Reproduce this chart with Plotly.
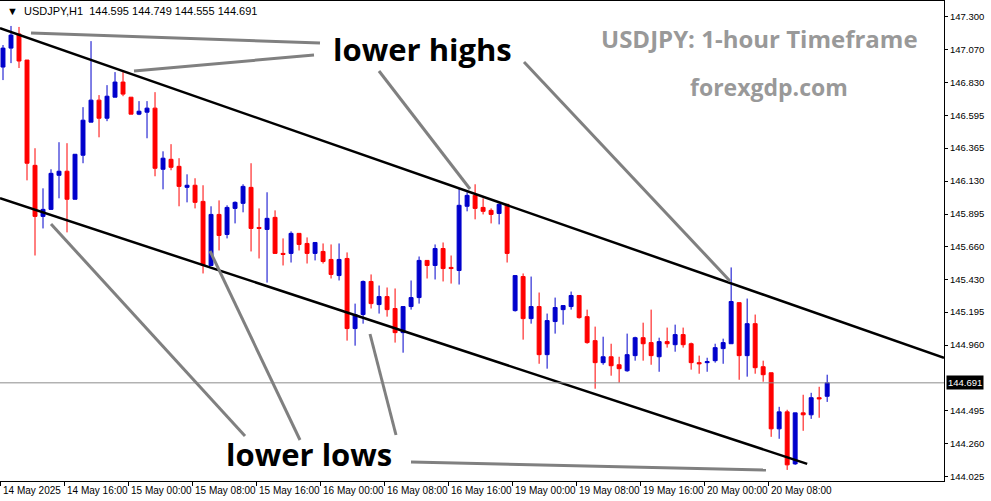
import plotly.graph_objects as go

# hourly candles, 14 May 08:00 -> 16 May 23:00, then 19 May 00:00 -> 20 May 15:00
opens = [146.943, 147.078, 147.179, 146.993, 146.242, 145.878, 145.928, 146.171, 146.200, 146.000,
         146.314, 146.550, 146.707, 146.578, 146.728, 146.836, 146.728, 146.607, 146.621, 146.650,
         146.214, 146.285, 146.235, 146.085, 146.100, 145.985, 145.528, 145.892, 145.749, 145.935,
         145.971, 146.085, 145.799, 145.785, 145.871, 145.614, 145.614, 145.757, 145.685, 145.614,
         145.628, 145.571, 145.456, 145.578, 145.078, 145.178, 145.414, 145.249, 145.306, 145.221,
         145.049, 145.235, 145.299, 145.564, 145.528, 145.649, 145.514, 145.492, 145.950, 146.028,
         145.942, 145.921, 145.899, 145.964, 145.206, 145.449, 145.149, 145.235, 144.892, 145.128,
         145.213, 145.235, 145.314, 145.163, 144.992, 144.835, 144.877, 144.820, 144.777, 144.885,
         145.013, 144.978, 144.877, 144.985, 144.963, 145.035, 144.970, 144.835, 144.835, 144.849,
         144.935, 144.970, 145.263, 144.885, 145.113, 144.806, 144.763, 144.363, 144.484, 144.113,
         144.477, 144.463, 144.585, 144.595]
highs = [147.100, 147.236, 147.229, 146.993, 146.364, 146.078, 146.214, 146.407, 146.400, 146.321,
         146.657, 147.128, 146.743, 146.814, 146.907, 146.907, 146.728, 146.700, 146.700, 146.764,
         146.342, 146.393, 146.293, 146.178, 146.150, 146.100, 145.950, 145.992, 145.957, 145.985,
         146.107, 146.257, 145.935, 146.050, 145.921, 145.721, 145.771, 145.757, 145.728, 145.692,
         145.685, 145.678, 145.685, 145.621, 145.256, 145.421, 145.464, 145.385, 145.371, 145.364,
         145.235, 145.421, 145.592, 145.564, 145.678, 145.692, 145.599, 146.078, 146.050, 146.107,
         146.007, 145.935, 145.971, 145.964, 145.456, 145.471, 145.449, 145.335, 145.185, 145.299,
         145.242, 145.342, 145.314, 145.213, 145.092, 145.020, 144.970, 144.877, 145.042, 145.020,
         145.120, 145.213, 145.013, 145.085, 145.106, 145.085, 144.978, 144.885, 144.870, 144.970,
         145.006, 145.514, 145.263, 145.292, 145.178, 144.849, 144.763, 144.520, 144.499, 144.477,
         144.606, 144.620, 144.663, 144.749]
lows = [146.850, 146.971, 146.936, 146.135, 145.599, 145.792, 145.928, 146.007, 145.764, 146.000,
        146.257, 146.550, 146.442, 146.557, 146.728, 146.735, 146.607, 146.600, 146.435, 146.164,
        146.071, 146.207, 145.950, 145.978, 145.935, 145.471, 145.528, 145.635, 145.721, 145.828,
        145.907, 145.628, 145.578, 145.406, 145.614, 145.528, 145.549, 145.635, 145.542, 145.564,
        145.542, 145.435, 145.421, 144.992, 144.956, 145.113, 145.221, 145.185, 145.163, 144.978,
        144.906, 145.213, 145.256, 145.435, 145.428, 145.414, 145.399, 145.392, 145.914, 145.857,
        145.892, 145.828, 145.821, 145.549, 145.199, 144.999, 145.113, 144.827, 144.792, 145.042,
        145.106, 145.213, 145.149, 144.970, 144.649, 144.820, 144.742, 144.692, 144.770, 144.849,
        144.849, 144.820, 144.770, 144.942, 144.913, 144.942, 144.785, 144.756, 144.770, 144.835,
        144.827, 144.970, 144.713, 144.735, 144.756, 144.699, 144.306, 144.292, 144.070, 144.106,
        144.349, 144.434, 144.442, 144.555]
closes = [147.078, 147.171, 146.986, 146.257, 145.878, 145.928, 146.185, 146.200, 146.000, 146.321,
          146.564, 146.707, 146.578, 146.735, 146.836, 146.750, 146.607, 146.628, 146.650, 146.221,
          146.293, 146.228, 146.092, 146.100, 145.978, 145.528, 145.892, 145.742, 145.942, 145.978,
          146.092, 145.792, 145.792, 145.864, 145.614, 145.607, 145.757, 145.678, 145.614, 145.692,
          145.556, 145.464, 145.571, 145.078, 145.178, 145.414, 145.256, 145.306, 145.213, 145.049,
          145.235, 145.299, 145.564, 145.528, 145.649, 145.506, 145.506, 145.957, 146.028, 145.935,
          145.914, 145.892, 145.964, 145.614, 145.456, 145.149, 145.235, 144.892, 145.135, 145.228,
          145.242, 145.314, 145.156, 144.978, 144.835, 144.877, 144.813, 144.792, 144.892, 145.013,
          144.970, 144.885, 144.985, 144.970, 145.035, 144.963, 144.835, 144.827, 144.842, 144.942,
          144.978, 145.271, 144.885, 145.113, 144.799, 144.749, 144.363, 144.484, 144.106, 144.477,
          144.463, 144.585, 144.577, 144.691]

date_labels = ["14 May 2025", "14 May 16:00", "15 May 00:00", "15 May 08:00", "15 May 16:00",
               "16 May 00:00", "16 May 08:00", "16 May 16:00", "19 May 00:00", "19 May 08:00",
               "19 May 16:00", "20 May 00:00", "20 May 08:00"]
price_ticks = [147.300, 147.070, 146.830, 146.595, 146.365, 146.130, 145.895, 145.660,
               145.430, 145.195, 144.960, 144.495, 144.260, 144.025]
last_price = 144.691

# channel lines (start/end in bar index, price)
upper_channel = [(-0.375, 147.221), (117.6, 144.870)]
lower_channel = [(-0.375, 146.007), (100.5, 144.113)]

W, H = 944, 480  # plot area in px


def px(x):
    return x / W


def py(y):
    return 1 - y / H


idx = list(range(len(opens)))
fig = go.Figure(go.Candlestick(
    x=idx, open=opens, high=highs, low=lows, close=closes,
    increasing=dict(line=dict(color="#0000cc", width=1), fillcolor="#0000cc"),
    decreasing=dict(line=dict(color="#ff0000", width=1), fillcolor="#ff0000"),
    whiskerwidth=0, hoverinfo="skip",
))

shapes = []
for ch in (upper_channel, lower_channel):
    shapes.append(dict(type="line", xref="x", yref="y", x0=ch[0][0], y0=ch[0][1],
                       x1=ch[1][0], y1=ch[1][1], line=dict(color="black", width=2.5)))
shapes.append(dict(type="line", xref="paper", yref="y", x0=0, x1=1, y0=last_price, y1=last_price,
                   line=dict(color="#8c8c8c", width=1)))

# gray pointer lines (pixel positions)
pointers = [((31, 32), (320, 42)), ((134, 70), (314, 54)), ((379, 70), (470, 188)),
            ((524, 61), (730, 280)), ((51, 223), (245, 435)), ((210, 250), (300, 439)),
            ((370, 333), (396, 434)), ((411, 461), (766, 469))]
for (a, b) in pointers:
    shapes.append(dict(type="line", xref="paper", yref="paper", x0=px(a[0]), y0=py(a[1]),
                       x1=px(b[0]), y1=py(b[1]), line=dict(color="#808080", width=3)))

big = dict(size=31, color="black", family="Open Sans")
annotations = [
    dict(text="<b>lower highs</b>", x=px(422), y=py(48), font=big),
    dict(text="<b>lower lows</b>", x=px(309), y=py(453), font=big),
    dict(text="<b>USDJPY: 1-hour Timeframe</b>", x=px(759), y=py(38),
         font=dict(size=24, color="#999999", family="Open Sans")),
    dict(text="<b>forexgdp.com</b>", x=px(769), y=py(86),
         font=dict(size=23, color="#999999", family="Open Sans")),
    dict(text="▼  USDJPY,H1  144.595 144.749 144.555 144.691", x=px(5), y=py(10), xanchor="left",
         font=dict(size=11, color="black")),
]
for a in annotations:
    a.update(xref="paper", yref="paper", showarrow=False)
    a.setdefault("xanchor", "center")
    a["yanchor"] = "middle"
annotations.append(dict(text=f"{last_price:.3f}", x=1, y=last_price, xref="paper", yref="y",
                        xanchor="left", yanchor="middle", xshift=2, showarrow=False, bgcolor="black",
                        font=dict(size=9.5, color="white"), borderpad=1))
for i, lab in enumerate(date_labels):
    annotations.append(dict(text=lab, x=i * 8 - 0.3, y=0, xref="x", yref="paper", yanchor="top",
                            xanchor="left", yshift=-2, showarrow=False,
                            font=dict(size=10, color="black", family="Liberation Sans Narrow, Liberation Sans")))

fig.update_layout(
    width=991, height=501, margin=dict(l=0, r=47, t=1, b=20),
    paper_bgcolor="white", plot_bgcolor="white", showlegend=False,
    font=dict(family="Liberation Sans", color="black"),
    xaxis=dict(range=[-0.375, 117.6], rangeslider=dict(visible=False), showgrid=False, zeroline=False,
               tickvals=[i * 8 - 0.3 for i in range(len(date_labels))], ticktext=[""] * len(date_labels),
               ticks="outside", ticklen=4, tickcolor="black", showline=True, linecolor="black", mirror=True),
    yaxis=dict(range=[143.991, 147.414], side="right", showgrid=False, zeroline=False,
               tickvals=price_ticks, ticktext=[f"{v:.3f}" for v in price_ticks],
               ticks="outside", ticklen=3, tickcolor="black", showline=True, linecolor="black", mirror=True,
               tickfont=dict(size=9.5)),
    shapes=shapes, annotations=annotations,
)

fig.write_html("out.html", config={"displayModeBar": False},
               post_script="document.body.style.margin='0';")
